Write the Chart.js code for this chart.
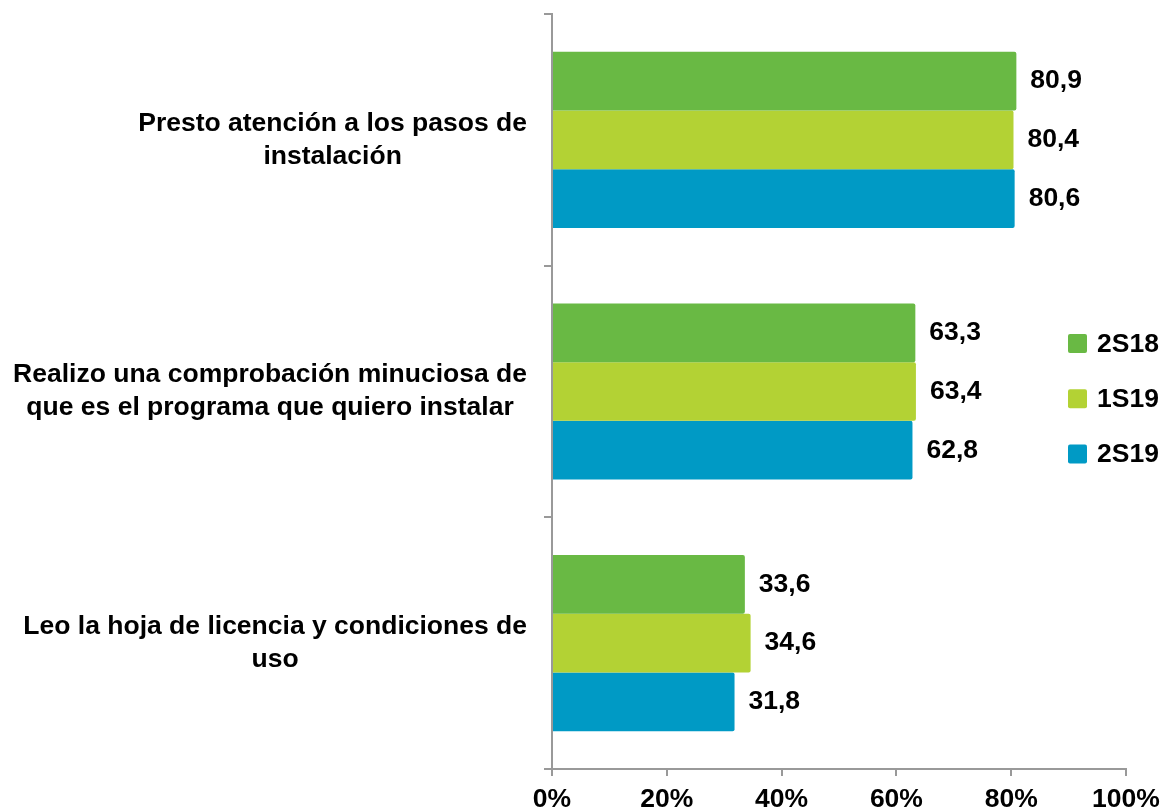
<!DOCTYPE html>
<html>
<head>
  <meta charset="utf-8">
  <title>Instalación de programas</title>
  <script src="https://cdn.jsdelivr.net/npm/chart.js"></script>
  <style>
    html, body { margin: 0; padding: 0; background: #fff; }
    #wrap { width: 1163px; height: 812px; position: relative; }
  </style>
</head>
<body>
  <div id="wrap"><canvas id="chart"></canvas></div>
  <script>
    const categories = [
      ["Presto atención a los pasos de", "instalación"],
      ["Realizo una comprobación minuciosa de", "que es el programa que quiero instalar"],
      ["Leo la hoja de licencia y condiciones de", "uso"],
    ];
    const seriesNames = ["2S18", "1S19", "2S19"];
    const values2S18 = [80.9, 63.3, 33.6];
    const values1S19 = [80.4, 63.4, 34.6];
    const values2S19 = [80.6, 62.8, 31.8];
    const xTickValues = [0, 20, 40, 60, 80, 100];
    const colors = ["#69b944", "#b3d234", "#009ac5"];

    const FONT = "'Liberation Sans', Arial, sans-serif";
    const FONT_SIZE = 26.5;
    const AXIS_GRAY = "#999999";

    // labels at bar ends, decimal comma
    const valueLabels = {
      id: "valueLabels",
      afterDatasetsDraw(chart) {
        const ctx = chart.ctx;
        ctx.save();
        ctx.font = `bold ${FONT_SIZE}px ${FONT}`;
        ctx.fillStyle = "#000";
        ctx.textAlign = "left";
        ctx.textBaseline = "middle";
        chart.data.datasets.forEach((ds, di) => {
          chart.getDatasetMeta(di).data.forEach((bar, i) => {
            ctx.fillText(ds.data[i].toFixed(1).replace(".", ","), bar.x + 14, bar.y);
          });
        });
        ctx.restore();
      },
    };

    // category labels: each block centered on its widest line, right edge at 527
    const categoryLabels = {
      id: "categoryLabels",
      afterDraw(chart) {
        const ctx = chart.ctx;
        const y = chart.scales.y;
        ctx.save();
        ctx.font = `bold ${FONT_SIZE}px ${FONT}`;
        ctx.fillStyle = "#000";
        ctx.textAlign = "center";
        ctx.textBaseline = "middle";
        categories.forEach((lines, i) => {
          const cy = y.getPixelForValue(i);
          const maxW = Math.max(...lines.map((l) => ctx.measureText(l).width));
          const cx = 527 - maxW / 2;
          lines.forEach((l, j) => {
            ctx.fillText(l, cx, cy + (j - (lines.length - 1) / 2) * 33);
          });
        });
        ctx.restore();
      },
    };

    const sideLegend = {
      id: "sideLegend",
      afterDraw(chart) {
        const ctx = chart.ctx;
        ctx.save();
        ctx.font = `bold ${FONT_SIZE}px ${FONT}`;
        ctx.textAlign = "left";
        ctx.textBaseline = "middle";
        seriesNames.forEach((name, i) => {
          const cy = 343.5 + i * 55.3;
          ctx.fillStyle = colors[i];
          ctx.beginPath();
          ctx.roundRect(1068, cy - 9.5, 19, 19, 2);
          ctx.fill();
          ctx.fillStyle = "#000";
          ctx.fillText(name, 1097, cy + 1);
        });
        ctx.restore();
      },
    };

    const seriesData = [values2S18, values1S19, values2S19];

    new Chart(document.getElementById("chart"), {
      type: "bar",
      data: {
        labels: categories,
        datasets: seriesNames.map((name, i) => ({
          label: name,
          data: seriesData[i],
          backgroundColor: colors[i],
          borderRadius: 2,
          borderSkipped: "start",
          barPercentage: 1,
          categoryPercentage: 0.7,
        })),
      },
      options: {
        indexAxis: "y",
        responsive: true,
        maintainAspectRatio: false,
        animation: false,
        layout: { padding: { top: 14, right: 37, left: 0, bottom: 0 } },
        plugins: {
          legend: { display: false },
          tooltip: { enabled: false },
        },
        scales: {
          x: {
            min: 0,
            max: 100,
            afterBuildTicks(scale) {
              scale.ticks = xTickValues.map((v) => ({ value: v }));
            },
            afterFit(scale) {
              scale.height = 43;
              // keep the 100% label from shrinking the plot
              scale.paddingLeft = 0;
              scale.paddingRight = 0;
            },
            grid: { drawOnChartArea: false, drawTicks: true, tickLength: 7, color: AXIS_GRAY, lineWidth: 2 },
            border: { display: true, color: AXIS_GRAY, width: 2 },
            ticks: {
              padding: 8,
              color: "#000",
              font: { family: FONT, size: FONT_SIZE, weight: "bold" },
              callback: (v) => v + "%",
              maxRotation: 0,
            },
          },
          y: {
            afterFit(scale) { scale.width = 552; },
            grid: { drawOnChartArea: false, drawTicks: true, tickLength: 8, color: AXIS_GRAY, lineWidth: 2 },
            border: { display: true, color: AXIS_GRAY, width: 2 },
            ticks: { display: false },
          },
        },
      },
      plugins: [valueLabels, categoryLabels, sideLegend],
    });
  </script>
</body>
</html>
